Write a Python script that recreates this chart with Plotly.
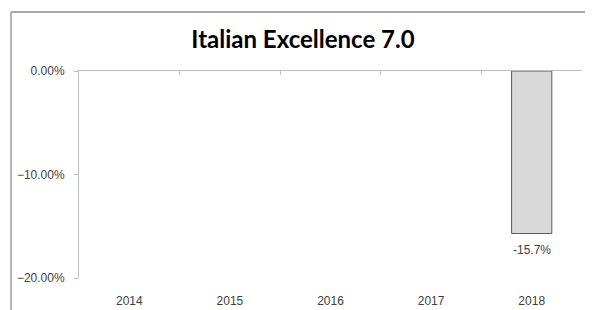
import plotly.graph_objects as go

years = ["2014", "2015", "2016", "2017", "2018"]
values = [None, None, None, None, -0.157]
y_ticks = [0, -0.10, -0.20]
title_text = "Italian Excellence 7.0"

# the page body has an 8px margin: size the figure so it ends at the window edge
OFF = 8
W, H = 593 - OFF, 310 - OFF
L, T = 79 - OFF, 71 - OFF
pw, ph = 503, 207
R, B = W - L - pw, H - T - ph

xs = list(range(len(years)))

fig = go.Figure()
fig.add_trace(go.Bar(
    x=xs, y=values, width=0.4,
    marker=dict(color="#d9d9d9", line=dict(color="#595959", width=1)),
    showlegend=False, hoverinfo="skip",
))
# invisible trace for the top (zero) axis
fig.add_trace(go.Scatter(x=[xs[0]], y=[0], xaxis="x2", mode="markers",
                         marker=dict(opacity=0), showlegend=False, hoverinfo="skip"))

for x, v in zip(xs, values):
    if v is not None:
        fig.add_annotation(x=x, y=v, text=f"{v*100:.1f}%", showarrow=False,
                           yanchor="middle", yshift=-16,
                           font=dict(family="Liberation Sans", size=12, color="#404040"))

xr = [-0.5, len(years) - 0.5]
fig.update_layout(
    width=W, height=H,
    margin=dict(l=L, r=R, t=T, b=B, autoexpand=False),
    paper_bgcolor="white", plot_bgcolor="white",
    title=dict(text=f"<b>{title_text}</b>", x=(303 - OFF) / W, xanchor="center",
               y=1 - (40 - OFF) / H, yanchor="middle",
               font=dict(family="Lato", size=24, color="#000000")),
    xaxis=dict(range=xr, tickmode="array", tickvals=xs, ticktext=years,
               showline=False, showgrid=False, zeroline=False,
               ticks="", ticklabelstandoff=14,
               tickfont=dict(family="Liberation Sans", size=12, color="#404040")),
    xaxis2=dict(range=xr, overlaying="x", side="top", anchor="y",
                tickmode="array", tickvals=[i - 0.5 for i in range(len(years) + 1)],
                showticklabels=False, showline=True, linecolor="#bfbfbf", linewidth=1,
                ticks="inside", ticklen=4, tickcolor="#bfbfbf",
                showgrid=False, zeroline=False),
    yaxis=dict(range=[-0.2, 0], tickmode="array", tickvals=y_ticks,
               tickformat=".2%", showgrid=False, zeroline=False,
               showline=True, linecolor="#bfbfbf", linewidth=1,
               ticks="outside", ticklen=4, tickcolor="#bfbfbf",
               ticklabelstandoff=7,
               tickfont=dict(family="Liberation Sans", size=12, color="#404040")),
)

# outer chart border (cropped on right and bottom)
bx = (11 - 79) / pw
by = 1 + (71 - 12) / ph
fig.add_shape(type="line", xref="paper", yref="paper", x0=bx, y0=by, x1=(W + 5 - L) / pw, y1=by,
              line=dict(color="#8c8c8c", width=1.3))
fig.add_shape(type="line", xref="paper", yref="paper", x0=bx, y0=by, x1=bx, y1=-(B + 5) / ph,
              line=dict(color="#8c8c8c", width=1.3))

fig.write_html("out.html")
